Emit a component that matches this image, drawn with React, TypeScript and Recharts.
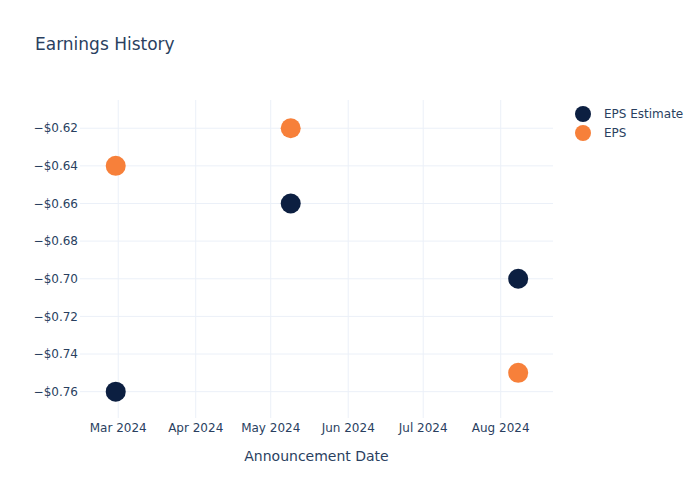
import { ScatterChart, Scatter, XAxis, YAxis, ReferenceLine, Legend } from 'recharts';

const dates = ['2024-02-29', '2024-05-09', '2024-08-08'];
const epsEstimate = [-0.76, -0.66, -0.7];
const eps = [-0.64, -0.62, -0.75];
const monthTicks = ['2024-03-01', '2024-04-01', '2024-05-01', '2024-06-01', '2024-07-01', '2024-08-01'];
const yTicks = [-0.76, -0.74, -0.72, -0.7, -0.68, -0.66, -0.64, -0.62];

const MONTHS = ['Jan', 'Feb', 'Mar', 'Apr', 'May', 'Jun', 'Jul', 'Aug', 'Sep', 'Oct', 'Nov', 'Dec'];
const NAVY = '#0c1f41';
const ORANGE = '#f7803a';
const TEXT = '#2a3f5f';
const GRID = '#ebf0f8';
const FONT = '"DejaVu Sans", Verdana, sans-serif';

const ts = (d: string) => Date.parse(d + 'T00:00:00Z');

const estimateData = dates.map((d, i) => ({ x: ts(d), y: epsEstimate[i] }));
const epsData = dates.map((d, i) => ({ x: ts(d), y: eps[i] }));

const formatMonth = (v: number) => {
  const d = new Date(v);
  return `${MONTHS[d.getUTCMonth()]} ${d.getUTCFullYear()}`;
};
const formatMoney = (v: number) => (v < 0 ? '\u2212' : '') + '$' + Math.abs(v).toFixed(2);

const dot = (color: string) => (props: any) => (
  <circle cx={props.cx} cy={props.cy} r={10} fill={color} />
);

const legendItems = [
  { name: 'EPS Estimate', color: NAVY },
  { name: 'EPS', color: ORANGE },
];

const renderLegend = () => (
  <div style={{ fontFamily: FONT, fontSize: 12, color: TEXT }}>
    {legendItems.map((it) => (
      <div key={it.name} style={{ display: 'flex', alignItems: 'center', height: 19 }}>
        <svg width={16} height={16} style={{ marginRight: 13 }}>
          <circle cx={8} cy={8} r={8} fill={it.color} />
        </svg>
        <span>{it.name}</span>
      </div>
    ))}
  </div>
);

export default function App() {
  return (
    <div style={{ position: 'absolute', left: 0, top: 0, width: 700, height: 500, background: '#fff' }}>
      <div
        style={{
          position: 'absolute',
          left: 35,
          top: 34,
          fontFamily: FONT,
          fontSize: 17,
          color: TEXT,
          lineHeight: '20px',
        }}
      >
        Earnings History
      </div>
      <ScatterChart width={700} height={500} margin={{ top: 100, right: 147, bottom: 0, left: 10 }}>
        <XAxis
          type="number"
          dataKey="x"
          domain={[Date.UTC(2024, 1, 14, 17), Date.UTC(2024, 7, 21, 22)]}
          ticks={monthTicks.map(ts)}
          tickFormatter={formatMonth}
          axisLine={false}
          tickLine={false}
          tickSize={0}
          tickMargin={5}
          height={82}
          tick={{ fill: TEXT, fontSize: 12, fontFamily: FONT }}
          label={{
            value: 'Announcement Date',
            position: 'insideBottom',
            offset: 39,
            fill: TEXT,
            fontSize: 14,
            fontFamily: FONT,
          }}
        />
        <YAxis
          type="number"
          dataKey="y"
          domain={[-0.774, -0.605]}
          ticks={yTicks}
          tickFormatter={formatMoney}
          axisLine={false}
          tickLine={false}
          tickSize={0}
          tickMargin={2}
          width={70}
          tick={{ fill: TEXT, fontSize: 12, fontFamily: FONT }}
        />
        {yTicks.map((t) => (
          <ReferenceLine key={'h' + t} y={t} stroke={GRID} strokeWidth={1} />
        ))}
        {monthTicks.map((m) => (
          <ReferenceLine key={'v' + m} x={ts(m)} stroke={GRID} strokeWidth={1} />
        ))}
        <Legend
          layout="vertical"
          verticalAlign="middle"
          align="center"
          content={renderLegend}
          wrapperStyle={{ top: 104, left: 575, width: 120 }}
        />
        <Scatter name="EPS Estimate" data={estimateData} fill={NAVY} shape={dot(NAVY)} isAnimationActive={false} />
        <Scatter name="EPS" data={epsData} fill={ORANGE} shape={dot(ORANGE)} isAnimationActive={false} />
      </ScatterChart>
    </div>
  );
}
